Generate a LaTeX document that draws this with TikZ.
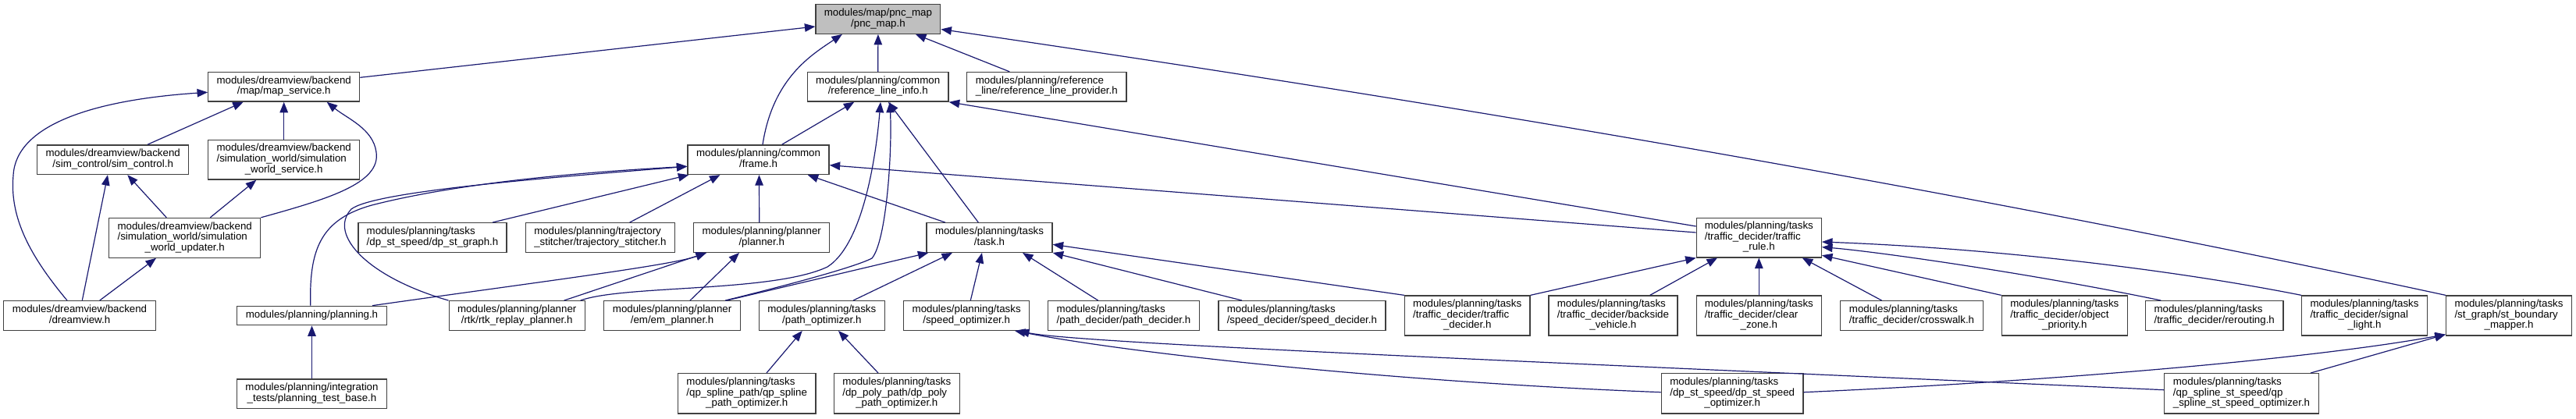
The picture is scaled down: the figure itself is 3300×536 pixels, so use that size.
\documentclass[tikz,border=0pt]{standalone}
\usepackage{fontspec}
\setmainfont{Liberation Sans}
\usetikzlibrary{arrows.meta}
\definecolor{edgeblue}{HTML}{191970}
\definecolor{boxborder}{HTML}{404040}
\definecolor{rootfill}{HTML}{BFBFBF}
\newcommand{\lbltwo}[2]{\begin{tabular}{@{}l@{}}#1\\\multicolumn{1}{@{}c@{}}{#2}\end{tabular}}
\newcommand{\lblthree}[3]{\begin{tabular}{@{}l@{}}#1\\#2\\\multicolumn{1}{@{}c@{}}{#3}\end{tabular}}
\begin{document}
\begin{tikzpicture}[x=1pt,y=-1pt,
  box/.style={draw=boxborder, line width=1.3pt, fill=white, inner sep=0pt, font={\fontsize{13.3}{13.2}\selectfont}},
  inc/.style={draw=edgeblue, line width=1.2pt, -{Triangle[length=13.5pt,width=10.5pt]}, edgeblue}]
\useasboundingbox (0,0) rectangle (3300,536);
% row 0
\node[box, fill=rootfill, minimum width=159.7pt, minimum height=37.6pt] (pnc) at (1124.9,24.5) {\lbltwo{modules/map/pnc\_map}{/pnc\_map.h}};
% row 1
\node[box, minimum width=194pt, minimum height=37.6pt] (ms) at (363.7,111.3) {\lbltwo{modules/dreamview/backend}{/map/map\_service.h}};
\node[box, minimum width=180.7pt, minimum height=37.6pt] (rli) at (1124.7,111.3) {\lbltwo{modules/planning/common}{/reference\_line\_info.h}};
\node[box, minimum width=204.3pt, minimum height=37.6pt] (rlp) at (1340.8,111.3) {\lbltwo{modules/planning/reference}{\_line/reference\_line\_provider.h}};
% row 2
\node[box, minimum width=194pt, minimum height=37.6pt] (sc) at (144.7,204.7) {\lbltwo{modules/dreamview/backend}{/sim\_control/sim\_control.h}};
\node[box, minimum width=194pt, minimum height=50.7pt] (sws) at (363.7,204.7) {\lblthree{modules/dreamview/backend}{/simulation\_world/simulation}{\_world\_service.h}};
\node[box, minimum width=181pt, minimum height=37.6pt] (fr) at (971.5,204.7) {\lbltwo{modules/planning/common}{/frame.h}};
% row 3
\node[box, minimum width=194pt, minimum height=50.7pt] (upd) at (236.7,304.8) {\lblthree{modules/dreamview/backend}{/simulation\_world/simulation}{\_world\_updater.h}};
\node[box, minimum width=190pt, minimum height=37.6pt] (dsg) at (554,304.5) {\lbltwo{modules/planning/tasks}{/dp\_st\_speed/dp\_st\_graph.h}};
\node[box, minimum width=191pt, minimum height=37.6pt] (ts) at (768.9,304.5) {\lbltwo{modules/planning/trajectory}{\_stitcher/trajectory\_stitcher.h}};
\node[box, minimum width=174pt, minimum height=37.6pt] (pl) at (975.7,304.5) {\lbltwo{modules/planning/planner}{/planner.h}};
\node[box, minimum width=161pt, minimum height=37.6pt] (tk) at (1267.5,304.5) {\lbltwo{modules/planning/tasks}{/task.h}};
\node[box, minimum width=160pt, minimum height=50.7pt] (tr) at (2253.3,304.5) {\lblthree{modules/planning/tasks}{/traffic\_decider/traffic}{\_rule.h}};
% row 4
\node[box, minimum width=194.6pt, minimum height=37.6pt] (dv) at (102,404.5) {\lbltwo{modules/dreamview/backend}{/dreamview.h}};
\node[box, minimum width=191.6pt, minimum height=24.4pt] (pn) at (399.5,404.5) {modules/planning/planning.h};
\node[box, minimum width=174pt, minimum height=37.6pt] (rtk) at (662.2,404.5) {\lbltwo{modules/planning/planner}{/rtk/rtk\_replay\_planner.h}};
\node[box, minimum width=174.6pt, minimum height=37.6pt] (em) at (861.1,404.5) {\lbltwo{modules/planning/planner}{/em/em\_planner.h}};
\node[box, minimum width=161pt, minimum height=37.6pt] (po) at (1052.8,404.5) {\lbltwo{modules/planning/tasks}{/path\_optimizer.h}};
\node[box, minimum width=161pt, minimum height=37.6pt] (so) at (1238.2,404.5) {\lbltwo{modules/planning/tasks}{/speed\_optimizer.h}};
\node[box, minimum width=193.6pt, minimum height=37.6pt] (pd) at (1439.5,404.5) {\lbltwo{modules/planning/tasks}{/path\_decider/path\_decider.h}};
\node[box, minimum width=214pt, minimum height=37.6pt] (sd) at (1667.9,404.5) {\lbltwo{modules/planning/tasks}{/speed\_decider/speed\_decider.h}};
\node[box, minimum width=160.6pt, minimum height=51pt] (td) at (1879.7,404.5) {\lblthree{modules/planning/tasks}{/traffic\_decider/traffic}{\_decider.h}};
\node[box, minimum width=165pt, minimum height=51pt] (bv) at (2066.4,404.5) {\lblthree{modules/planning/tasks}{/traffic\_decider/backside}{\_vehicle.h}};
\node[box, minimum width=160pt, minimum height=51pt] (cz) at (2253.3,404.5) {\lblthree{modules/planning/tasks}{/traffic\_decider/clear}{\_zone.h}};
\node[box, minimum width=182.5pt, minimum height=37.6pt] (cw) at (2449,404.5) {\lbltwo{modules/planning/tasks}{/traffic\_decider/crosswalk.h}};
\node[box, minimum width=161pt, minimum height=51pt] (op) at (2644.8,404.5) {\lblthree{modules/planning/tasks}{/traffic\_decider/object}{\_priority.h}};
\node[box, minimum width=176.5pt, minimum height=37.6pt] (rr) at (2836.7,404.5) {\lbltwo{modules/planning/tasks}{/traffic\_decider/rerouting.h}};
\node[box, minimum width=160.6pt, minimum height=51pt] (sl) at (3029,404.5) {\lblthree{modules/planning/tasks}{/traffic\_decider/signal}{\_light.h}};
\node[box, minimum width=161pt, minimum height=51pt] (sb) at (3214,404.5) {\lblthree{modules/planning/tasks}{/st\_graph/st\_boundary}{\_mapper.h}};
% row 5
\node[box, minimum width=191.6pt, minimum height=37.6pt] (ptb) at (399.5,504.7) {\lbltwo{modules/planning/integration}{\_tests/planning\_test\_base.h}};
\node[box, minimum width=176.5pt, minimum height=51.3pt] (qsp) at (956.7,504.3) {\lblthree{modules/planning/tasks}{/qp\_spline\_path/qp\_spline}{\_path\_optimizer.h}};
\node[box, minimum width=161pt, minimum height=51.3pt] (dpp) at (1148.8,504.3) {\lblthree{modules/planning/tasks}{/dp\_poly\_path/dp\_poly}{\_path\_optimizer.h}};
\node[box, minimum width=181.7pt, minimum height=51.3pt] (dso) at (2219.2,504.3) {\lblthree{modules/planning/tasks}{/dp\_st\_speed/dp\_st\_speed}{\_optimizer.h}};
\node[box, minimum width=197.6pt, minimum height=51.3pt] (qss) at (2871.5,504.3) {\lblthree{modules/planning/tasks}{/qp\_spline\_st\_speed/qp}{\_spline\_st\_speed\_optimizer.h}};
% edges to pnc_map
\draw[inc] ([yshift=12pt]ms.east) -- ([yshift=-9.5pt]pnc.west);
\draw[inc] ([xshift=5.5pt]fr.north) .. controls (990,100) and (1040,70) .. ([xshift=-46pt]pnc.south);
\draw[inc] (rli.north) -- (pnc.south);
\draw[inc] ([xshift=-47.5pt]rlp.north) -- ([xshift=48pt]pnc.south);
\draw[inc] (sb.north west) .. controls (2490,239.5) and (1848,131.4) .. ([yshift=-13pt]pnc.east);
% dreamview part
\draw[inc] ([xshift=44.3pt]sc.north) -- ([xshift=-52pt]ms.south);
\draw[inc] (sws.north) -- (ms.south);
\draw[inc] (upd.north east) .. controls (420,255) and (488,235) .. (482,195) .. controls (478,165) and (445,152) .. ([xshift=55pt]ms.south);
\draw[inc] ([xshift=-16pt]dv.north) .. controls (40,330) and (12,280) .. (17,225) .. controls (20,160) and (120,128) .. ([yshift=-7pt]ms.west);
\draw[inc] ([xshift=3.3pt]dv.north) -- ([xshift=-6.7pt]sc.south);
\draw[inc] ([xshift=-23.4pt]upd.north) -- ([xshift=18.6pt]sc.south);
\draw[inc] ([xshift=32.6pt]upd.north) -- ([xshift=-35.4pt]sws.south);
\draw[inc] ([xshift=25.7pt]dv.north) -- ([xshift=-36.7pt]upd.south);
% reference_line_info
\draw[inc] ([xshift=30.2pt]fr.north) -- ([xshift=-30.4pt]rli.south);
\draw[inc] ([xshift=81.4pt]rtk.north) .. controls (800,365) and (990,375) .. (1060,342) .. controls (1110,310) and (1124,180) .. ([xshift=3.3pt]rli.south);
\draw[inc] ([xshift=68pt]em.north) .. controls (970,375) and (1090,345) .. (1117,331) .. controls (1135,310) and (1143,200) .. ([xshift=15.3pt]rli.south);
\draw[inc] ([xshift=-14.2pt]tk.north) -- ([xshift=13.3pt]rli.south);
\draw[inc] ([yshift=14.5pt]tr.west) -- (rli.south east);
% planner / frame
\draw[inc] ([xshift=70pt]em.north) -- ([xshift=3pt]tk.south west);
\draw[inc] ([xshift=60.4pt]rtk.north) -- ([xshift=-70.7pt]pl.south);
\draw[inc] ([xshift=22.9pt]em.north) -- ([xshift=-28.7pt]pl.south);
\draw[inc] ([xshift=77.5pt]pn.north) .. controls (700,360) and (860,340) .. ([xshift=-70.7pt]pl.south);
\draw[inc] ([xshift=-1.7pt]pn.north) .. controls (396,320) and (410,280) .. (480,262) .. controls (600,232) and (760,220) .. ([yshift=-8.6pt]fr.west);
\draw[inc] (rtk.north west) .. controls (470,355) and (420,300) .. (450,268) .. controls (480,245) and (700,228) .. ([yshift=-8.6pt]fr.west);
\draw[inc] ([xshift=77pt]dsg.north) -- ([xshift=2pt]fr.south west);
\draw[inc] ([xshift=37.8pt]ts.north) -- ([xshift=-49pt]fr.south);
\draw[inc] ([xshift=-3pt]pl.north) -- ([xshift=1pt]fr.south);
\draw[inc] ([xshift=-56.7pt]tk.north) -- ([xshift=63.2pt]fr.south);
\draw[inc] ([yshift=6.5pt]tr.west) -- ([yshift=-7pt]fr.east);
% task
\draw[inc] ([xshift=40.2pt]po.north) -- ([xshift=-47.5pt]tk.south);
\draw[inc] ([xshift=5.1pt]so.north) -- ([xshift=-9.5pt]tk.south);
\draw[inc] ([xshift=-32.8pt]pd.north) -- ([xshift=42.5pt]tk.south);
\draw[inc] ([xshift=-76.9pt]sd.north) -- (tk.south east);
\draw[inc] (td.north west) -- ([yshift=-8.8pt]tk.east);
% traffic_rule
\draw[inc] (td.north east) -- (tr.south west);
\draw[inc] ([xshift=47.3pt]bv.north) -- ([xshift=-53.3pt]tr.south);
\draw[inc] (cz.north) -- (tr.south);
\draw[inc] ([xshift=-38.5pt]cw.north) -- ([xshift=55.4pt]tr.south);
\draw[inc] (op.north west) -- ([yshift=3.3pt]tr.south east);
\draw[inc] ([xshift=-68.4pt]rr.north) .. controls (2600,350) and (2400,322) .. ([yshift=-12.2pt]tr.east);
\draw[inc] (sl.north west) .. controls (2780,345) and (2550,318) .. ([yshift=-5.5pt]tr.east);
% speed optimizer, st boundary
\draw[inc] ([yshift=1.6pt]dso.west) .. controls (1800,490) and (1460,455) .. ([xshift=61.8pt]so.south);
\draw[inc] ([yshift=4.6pt]qss.west) .. controls (2000,465) and (1380,440) .. ([xshift=66.8pt]so.south);
\draw[inc] ([yshift=1.6pt]dso.east) .. controls (2600,490) and (2950,462) .. ([yshift=2pt]sb.south west);
\draw[inc] ([xshift=88.5pt]qss.north) -- ([yshift=2pt]sb.south west);
% path optimizer, planning
\draw[inc] ([xshift=25.3pt]qsp.north) -- ([xshift=-25.1pt]po.south);
\draw[inc] ([xshift=-23.8pt]dpp.north) -- ([xshift=21.2pt]po.south);
\draw[inc] (ptb.north) -- (pn.south);
\end{tikzpicture}
\end{document}
